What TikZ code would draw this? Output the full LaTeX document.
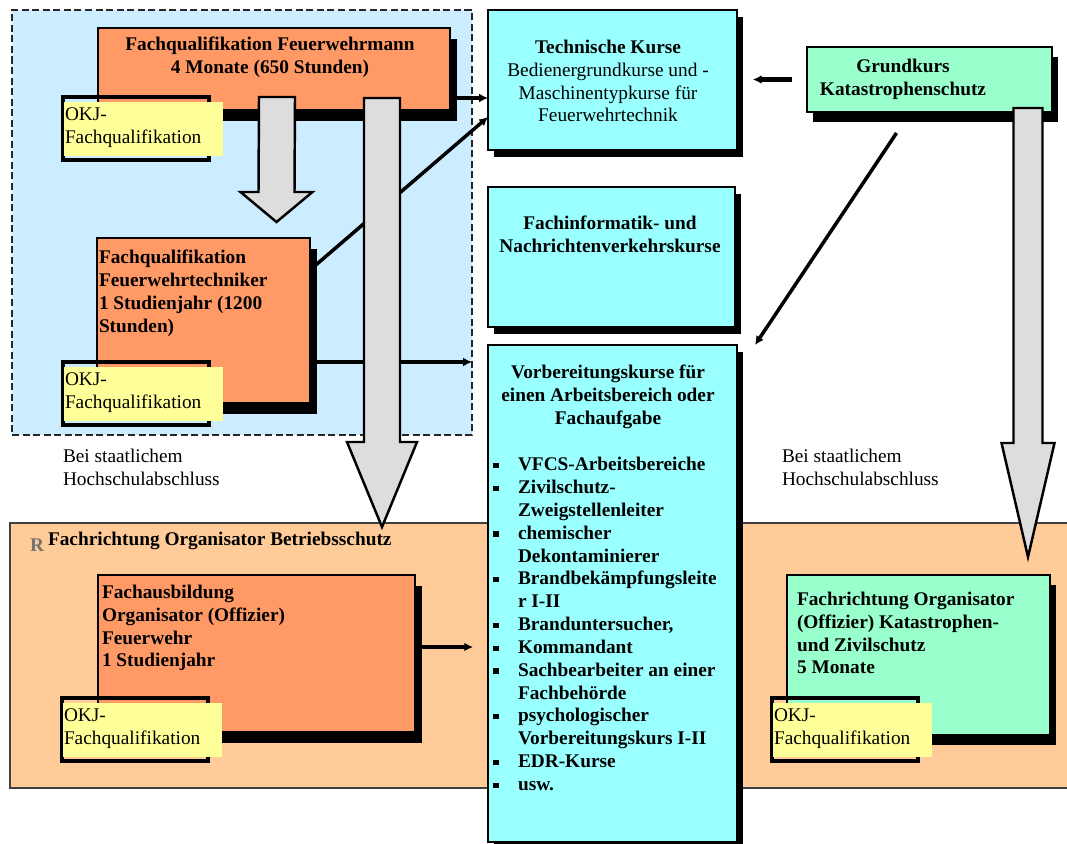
\documentclass[tikz,border=0pt]{standalone}
\usepackage{fontspec}
\setmainfont{Liberation Serif}
\usetikzlibrary{arrows.meta,calc,fit,shadows}

\definecolor{zoneblue}{HTML}{CCECFF}
\definecolor{boxorange}{HTML}{FF9966}
\definecolor{bandorange}{HTML}{FFCC99}
\definecolor{okjyellow}{HTML}{FFFF99}
\definecolor{kurscyan}{HTML}{99FFFF}
\definecolor{kursgreen}{HTML}{99FFCC}
\definecolor{arrowgray}{HTML}{DDDDDD}

\pgfdeclarelayer{zones}
\pgfdeclarelayer{links}
\pgfsetlayers{zones,links,main}

\tikzset{
  every node/.style={inner sep=0pt, outer sep=0pt, font=\fontsize{11}{13}\selectfont},
  zone/.style={draw=black!85, dash pattern=on 4pt off 2pt, line width=1.3pt, fill=zoneblue},
  band/.style={draw=black!75, line width=0.9pt, fill=bandorange},
  dropbox/.style 2 args={draw=black, line width=0.8pt,
    general shadow={fill=black, shadow xshift=#1, shadow yshift=#2}},
  orangebox/.style={dropbox={4.2pt}{-6pt}, fill=boxorange},
  cyanbox/.style={dropbox={3.4pt}{-4pt}, fill=kurscyan},
  greenbox/.style={dropbox={3.6pt}{-5.5pt}, fill=kursgreen},
  okjframe/.style={draw=black, line width=1.8pt},
  okjfill/.style={fill=okjyellow},
  boldtxt/.style={font=\fontsize{11}{13}\selectfont\bfseries},
  plaintxt/.style={font=\fontsize{11}{13}\selectfont},
  conn/.style={line width=2pt, -{Latex[length=5pt,width=5pt]}},
  grayarr/.style={draw=black, line width=1.4pt, fill=arrowgray, line join=miter}
}

% OKJ label: name, x, y of the frame corner
\newcommand{\okjbox}[3]{%
  \node[okjframe, fit={(#2,#3) (#2+146,#3+63)}] (#1f) {};
  \node[okjfill, fit={(#2+1,#3+5) (#2+160,#3+59)}] (#1) {};
  \node[plaintxt, align=left, anchor=west] at ($(#1.west)+(1,-1)$) {OKJ-\\Fachqualifikation};}

% block arrow: start, end, half shaft, half head, head length
\newcommand{\grayarrow}[5]{%
  \coordinate (ga) at (#1);
  \coordinate (gb) at (#2);
  \draw[grayarr] ($(ga)+(-#3,0)$) -- ($(ga)+(#3,0)$) -- ($(gb)+(#3,-#5)$)
    -- ($(gb)+(#4,-#5)$) -- (gb) -- ($(gb)+(-#4,-#5)$) -- ($(gb)+(-#3,-#5)$) -- cycle;}

\newcommand{\vbitem}{\llap{\rule[1.5pt]{3pt}{3pt}\hspace{11pt}}}

\begin{document}
\begin{tikzpicture}[x=0.02cm, y=-0.02cm]
  \useasboundingbox (0,0) rectangle (1067,844);

  % zones
  \begin{pgfonlayer}{zones}
    \fill[white] (0,0) rectangle (1067,844);
    \node[zone, fit={(12,10) (472,435)}] (blue) {};
    \node[band, fit={(10,523) (1075,788)}] (band) {};
  \end{pgfonlayer}
  \node[text=black!55, boldtxt] at (37,545) {R};
  \node[boldtxt, anchor=west] at (48,541) {Fachrichtung Organisator Betriebsschutz};
  \node[plaintxt, align=left, anchor=west] at (63,467) {Bei staatlichem\\Hochschulabschluss};
  \node[plaintxt, align=left, anchor=west] at (782,467) {Bei staatlichem\\Hochschulabschluss};

  % Feuerwehr boxes
  \node[orangebox, fit={(98,28) (450,110)}] (fwm) {};
  \node[boldtxt, align=center] at (270,57) {Fachqualifikation Feuerwehrmann\\4 Monate (650 Stunden)};
  \node[orangebox, fit={(97,238) (310,403)}] (fwt) {};
  \node[boldtxt, align=left, anchor=west] at (99,293) {Fachqualifikation\\Feuerwehrtechniker\\1 Studienjahr (1200\\Stunden)};

  \okjbox{okja}{63}{97}
  \okjbox{okjb}{63}{362}

  % Kurse
  \node[cyanbox, fit={(488,10) (737,150)}] (tk) {};
  \node[plaintxt, align=center] at (608,81) {\textbf{Technische Kurse}\\Bedienergrundkurse und -\\Maschinentypkurse für\\Feuerwehrtechnik};
  \node[cyanbox, fit={(488,187) (735,327)}] (fi) {};
  \node[boldtxt, align=center] at (610,234) {Fachinformatik- und\\Nachrichtenverkehrskurse};
  \node[greenbox, fit={(807,47) (1052,112)}] (gk) {};
  \node[boldtxt, align=center] at (903,79) {Grundkurs\\Katastrophenschutz};
  \node[cyanbox, fit={(488,345) (737,842)}] (vb) {};
  \node[boldtxt, align=center] at (608,397) {Vorbereitungskurse für\\einen Arbeitsbereich oder\\Fachaufgabe};
  \node[boldtxt, align=left, anchor=west] (vblist) at (518,624) {\vbitem VFCS-Arbeitsbereiche\\
    \vbitem Zivilschutz-\\Zweigstellenleiter\\
    \vbitem chemischer\\Dekontaminierer\\
    \vbitem Brandbekämpfungsleite\\r I-II\\
    \vbitem Branduntersucher,\\
    \vbitem Kommandant\\
    \vbitem Sachbearbeiter an einer\\Fachbehörde\\
    \vbitem psychologischer\\Vorbereitungskurs I-II\\
    \vbitem EDR-Kurse\\
    \vbitem usw.};

  % bottom row
  \node[orangebox, fit={(98,575) (415,732)}] (fab) {};
  \node[boldtxt, align=left, anchor=west] at (102,628) {Fachausbildung\\Organisator (Offizier)\\Feuerwehr\\1 Studienjahr};
  \okjbox{okjc}{62}{698}
  \node[greenbox, fit={(787,575) (1050,735)}] (fok) {};
  \node[boldtxt, align=left, anchor=west] at (797,633) {Fachrichtung Organisator\\(Offizier) Katastrophen-\\und Zivilschutz\\5 Monate};
  \okjbox{okjd}{772}{698}

  % block arrows
  \grayarrow{$(fwm.south)+(3,-13)$}{$(fwt.north)+(73,-16)$}{18}{36}{30}
  \grayarrow{$(382,0 |- fwm.south)+(0,-12)$}{$(382,0 |- band.north)+(0,4)$}{18}{35}{85}
  \grayarrow{$(1028,0 |- gk.south)+(0,-4)$}{$(1028,0 |- fok.north)+(0,-18)$}{14.5}{26.5}{114}

  % connectors
  \begin{pgfonlayer}{links}
    \draw[conn] (fwt.east |- 0,270) -- (tk.west |- 0,117);
    \draw[conn] (fwt.east |- 0,362) -- (blue.east |- 0,362);
  \end{pgfonlayer}
  \draw[conn] (fwm.east |- 0,98) -- (tk.west |- 0,98);
  \draw[conn, line width=2.6pt, shorten <=8.5pt, shorten >=9pt] (gk.west) -- (tk.east |- gk.west);
  \draw[conn] ($(gk.south)+(-33,21)$) -- ($(vb.north east)+(18,0)$);
  \draw[conn, shorten >=8.5pt] (fab.east |- 0,647) -- (vb.west |- 0,647);
\end{tikzpicture}
\end{document}
